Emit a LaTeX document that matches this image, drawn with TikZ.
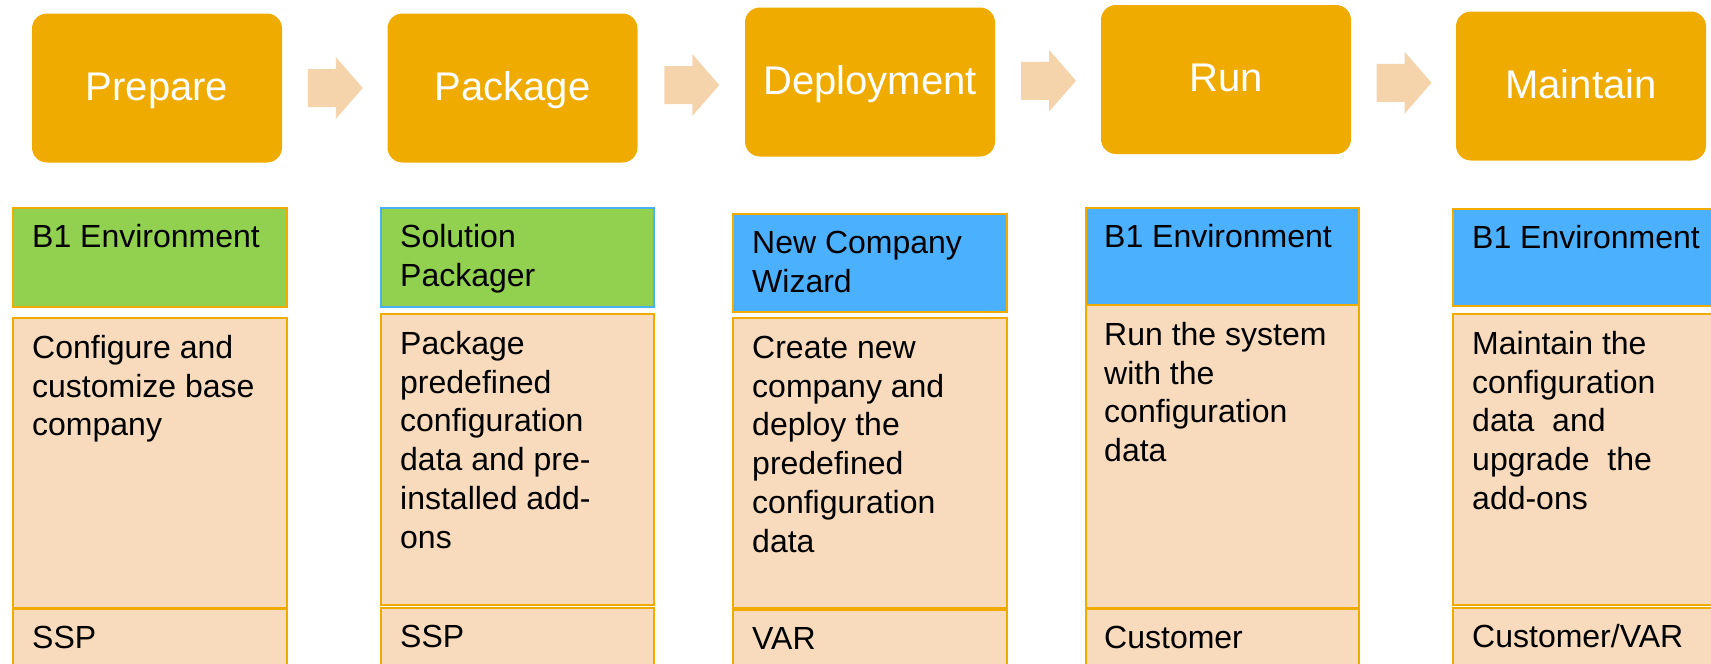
\documentclass[tikz,border=0pt]{standalone}
\usepackage{fontspec}
\setmainfont{Liberation Sans}
\usetikzlibrary{calc}

\definecolor{stagegold}{HTML}{F0AB00}
\definecolor{arrowpeach}{HTML}{F5D3AB}
\definecolor{envgreen}{HTML}{92D050}
\definecolor{toolblue}{HTML}{4BB1FE}
\definecolor{descpeach}{HTML}{F8DABD}
\definecolor{laneline}{HTML}{F0AB00}
\definecolor{laneblue}{HTML}{4BB1F5}

\newcommand{\stagefont}{\fontsize{40pt}{48pt}\selectfont}
\newcommand{\lanefont}{\fontsize{32pt}{38.8pt}\selectfont}
\newcommand{\firststrut}{\rule{0pt}{30pt}}

\tikzset{
  stage/.style={fill=stagegold, rounded corners=15pt, inner sep=0pt,
    minimum width=250pt, minimum height=149pt,
    text=white, font=\stagefont, text height=28.6pt, text depth=4.6pt},
  flowarrow/.style={fill=arrowpeach},
  lane/.style={draw=laneline, line width=2pt, anchor=north west,
    inner sep=0pt, minimum width=274pt},
  envbox/.style={lane, fill=envgreen, minimum height=99pt},
  toolbox/.style={lane, fill=toolblue, minimum height=98pt},
  descbox/.style={lane, fill=descpeach},
  rolebox/.style={lane, fill=descpeach, minimum height=90pt},
  lanetext/.style={anchor=north west, inner sep=0pt, align=left, font=\lanefont},
}

\begin{document}
\begin{tikzpicture}[x=1pt, y=-1pt]
\useasboundingbox (0,0) rectangle (1711,664);
\clip (0,0) rectangle (1711,664);

% stage boxes
\node[stage] (prep) at (157,88) {Prepare};
\node[stage] (pack) at (512.5,88) {Package};
\node[stage] (deploy) at (870,82) {Deployment};
\node[stage] (run) at (1226,79.5) {Run};
\node[stage] (maint) at (1581,86) {Maintain};

% block arrows between stages
\foreach \a/\b in {prep/pack, pack/deploy, deploy/run, run/maint}
  \fill[flowarrow] ($(\a.east)!0.5!(\b.west)$) ++(-27,-19) -- ++(28,0) -- ++(0,-12)
    -- ++(27,31) -- ++(-27,31) -- ++(0,-12) -- ++(-28,0) -- cycle;

% column 1
\node[envbox] (env1) at (12,207) {};
\node[descbox, minimum height=290pt] (desc1) at (12,317) {};
\node[rolebox] (role1) at (12,608) {};
\node[lanetext] (env1txt) at ([shift={(20,10)}]env1.north west) {\firststrut B1 Environment};
\node[lanetext] (desc1txt) at ([shift={(20,11)}]desc1.north west) {\firststrut Configure and\\customize base\\company};
\node[lanetext] (role1txt) at ([shift={(20,10)}]role1.north west) {\firststrut SSP};

% column 2
\node[envbox, draw=laneblue, minimum width=273pt] (env2) at (380,207) {};
\node[descbox, minimum width=273pt, minimum height=291pt] (desc2) at (380,313) {};
\node[rolebox, minimum width=273pt] (role2) at (380,607) {};
\node[lanetext] (env2txt) at ([shift={(20,10)}]env2.north west) {\firststrut Solution\\Packager};
\node[lanetext] (desc2txt) at ([shift={(20,11)}]desc2.north west) {\firststrut Package\\predefined\\configuration\\data and pre-\\installed add-\\ons};
\node[lanetext] (role2txt) at ([shift={(20,10)}]role2.north west) {\firststrut SSP};

% column 3
\node[toolbox] (env3) at (732,213) {};
\node[descbox, minimum height=290pt] (desc3) at (732,317) {};
\node[rolebox] (role3) at (732,609) {};
\node[lanetext] (env3txt) at ([shift={(20,10)}]env3.north west) {\firststrut New Company\\Wizard};
\node[lanetext] (desc3txt) at ([shift={(20,11)}]desc3.north west) {\firststrut Create new\\company and\\deploy the\\predefined\\configuration\\data};
\node[lanetext] (role3txt) at ([shift={(20,10)}]role3.north west) {\firststrut VAR};

% column 4
\node[toolbox, minimum width=273pt, minimum height=97pt] (env4) at (1085,207) {};
\node[descbox, minimum width=273pt, minimum height=303pt] (desc4) at (1085,304) {};
\node[rolebox, minimum width=273pt] (role4) at (1085,608) {};
\node[lanetext] (env4txt) at ([shift={(19,10)}]env4.north west) {\firststrut B1 Environment};
\node[lanetext] (desc4txt) at ([shift={(19,11)}]desc4.north west) {\firststrut Run the system\\with the\\configuration\\data};
\node[lanetext] (role4txt) at ([shift={(19,10)}]role4.north west) {\firststrut Customer};

% column 5 (runs off the right edge)
\node[toolbox, minimum height=97pt] (env5) at (1452,208) {};
\node[descbox, minimum height=291pt] (desc5) at (1452,313) {};
\node[rolebox] (role5) at (1452,607) {};
\node[lanetext] (env5txt) at ([shift={(20,10)}]env5.north west) {\firststrut B1 Environment};
\node[lanetext] (desc5txt) at ([shift={(20,11)}]desc5.north west) {\firststrut Maintain the\\configuration\\data\ \ and\\upgrade\ \ the\\add-ons};
\node[lanetext] (role5txt) at ([shift={(20,10)}]role5.north west) {\firststrut Customer/VAR};

\end{tikzpicture}
\end{document}
